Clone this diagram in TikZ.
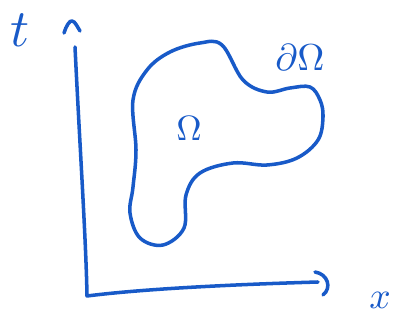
\documentclass[tikz,border=0pt]{standalone}
\usepackage{tikz}
\usetikzlibrary{arrows.meta,positioning}
\definecolor{inkblue}{RGB}{24,90,200}

\begin{document}
\begin{tikzpicture}[
    x=0.03cm, y=-0.03cm,
    ink/.style={draw=inkblue, line width=3pt, line cap=round, line join=round},
    lbl/.style={text=inkblue, inner sep=0pt}
]
\useasboundingbox (0,0) rectangle (395,320);
\coordinate (orig) at (87,296);
\coordinate (ttop) at (75,47);
\coordinate (xend) at (318,282);
% axes
\draw[ink] (ttop) .. controls (80,150) and (86,240) .. (orig) .. controls (150,288) and (250,284) .. (xend);
\draw[ink] (64,33) .. controls (66,26) and (70,20) .. (72,21) .. controls (75,21) and (78,28) .. (80,31);
\draw[ink] (315,272) .. controls (328,274) and (332,288) .. (323,295);
\node[lbl, scale=4.5] (tlabel) at (20,30) {$t$};
\node[lbl, scale=3.2] (xlabel) at (380,300) {$x$};
% domain
\draw[ink] plot[smooth cycle, tension=0.6] coordinates {
    (200,43) (222,45) (243,80) (267,92) (290,88) (310,87) (320,100)
    (323,117) (318,140) (297,158) (267,165) (233,163) (200,173)
    (186,195) (184,228) (163,245) (140,238) (130,213) (133,187)
    (136,150) (133,100) (147,70) (170,52)};
\node[lbl, scale=3] (omega) at (189,128) {$\Omega$};
\node[lbl, scale=3.2] (bdry) at (300,57) {$\partial\Omega$};
\end{tikzpicture}
\end{document}
